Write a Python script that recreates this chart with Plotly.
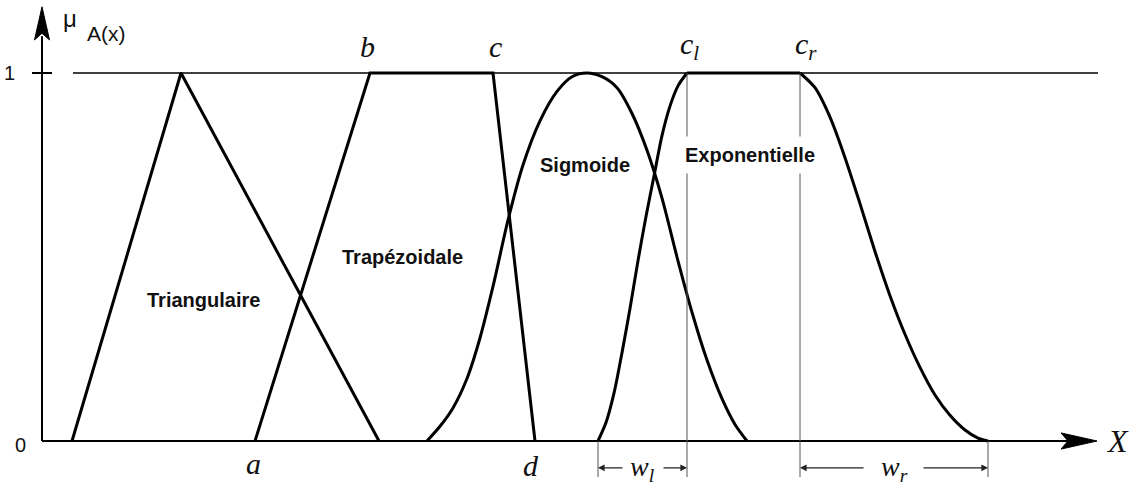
import plotly.graph_objects as go

# ---------------- data (x in abscissa units, mu = membership degree) ----------------
tri_x = [3.0, 13.9, 33.7]
tri_mu = [0, 1, 0]

trap_a, trap_b, trap_c, trap_d = 21.3, 32.8, 45.1, 49.3
trap_mu = [0, 1, 1, 0]

bell_x = [38.5, 39.8, 41.1, 42.5, 43.8, 45.1, 46.6, 48.1, 49.8, 51.5, 53.0, 54.5,
          56.0, 57.5, 59.0, 60.5, 62.0, 63.5, 65.0, 66.5, 68.0, 69.3, 70.5]
bell_mu = [0, 0.04, 0.09, 0.17, 0.28, 0.42, 0.60, 0.75, 0.87, 0.95, 0.99, 1.0,
           0.99, 0.96, 0.89, 0.79, 0.66, 0.50, 0.35, 0.22, 0.115, 0.045, 0]

exp_cl, exp_cr = 64.5, 75.8
exp_rise_x = [55.6, 56.4, 57.2, 58.0, 58.8, 59.6, 60.4, 61.2, 62.0, 62.8, 63.6, 64.5]
exp_rise_mu = [0, 0.05, 0.13, 0.24, 0.36, 0.49, 0.61, 0.72, 0.83, 0.91, 0.965, 1.0]
exp_fall_x = [75.8, 77.3, 78.8, 80.3, 81.8, 83.3, 84.8, 86.3, 87.8, 89.3, 90.8, 92.3, 93.6, 94.6]
exp_fall_mu = [1.0, 0.96, 0.88, 0.77, 0.645, 0.515, 0.395, 0.29, 0.20, 0.125, 0.07, 0.03, 0.008, 0]

y_tick_vals = [0, 1]
y_tick_text = ["0", "1"]

shape_labels = ["Triangulaire", "Trapézoidale", "Sigmoide", "Exponentielle"]

# ---------------- figure ----------------
BLACK = "#000000"
CURVE_W = 3
fig = go.Figure()


def curve(x, y, spline=False):
    line = dict(color=BLACK, width=CURVE_W, shape="spline" if spline else "linear")
    if spline:
        line["smoothing"] = 0.8
    fig.add_trace(go.Scatter(x=x, y=y, mode="lines", hoverinfo="skip", line=line))


curve(tri_x, tri_mu)
curve([trap_a, trap_b, trap_c, trap_d], trap_mu)
curve(bell_x, bell_mu, spline=True)
curve(exp_rise_x, exp_rise_mu, spline=True)
curve([exp_cl, exp_cr], [1, 1])
curve(exp_fall_x, exp_fall_mu, spline=True)

x_end = exp_fall_x[-1]
x_start_exp = exp_rise_x[0]
below = -0.098     # lower end of dimension ticks
dim_y = -0.073     # level of dimension arrows

shapes = []
# reference line mu = 1
shapes.append(dict(type="line", x0=3.1, x1=105.6, y0=1, y1=1,
                   line=dict(color=BLACK, width=1.5)))
# axes
shapes.append(dict(type="line", x0=0, x1=102.5, y0=0, y1=0, line=dict(color=BLACK, width=2)))
shapes.append(dict(type="line", x0=0, x1=0, y0=0, y1=1.1, line=dict(color=BLACK, width=2)))
# tick at 1
shapes.append(dict(type="line", x0=-1.0, x1=1.0, y0=1, y1=1, line=dict(color=BLACK, width=2)))
# arrow heads
shapes.append(dict(type="path", path="M 0,1.180 L -0.75,1.090 L 0,1.108 L 0.75,1.090 Z",
                   fillcolor=BLACK, line=dict(color=BLACK, width=1)))
shapes.append(dict(type="path", path="M 105.5,0 L 101.9,0.022 L 102.6,0 L 101.9,-0.022 Z",
                   fillcolor=BLACK, line=dict(color=BLACK, width=1)))
# thin vertical guides
GUIDE = dict(color="#555555", width=1)
for xv in (exp_cl, exp_cr):
    shapes.append(dict(type="line", x0=xv, x1=xv, y0=below, y1=1, line=GUIDE))
for xv in (x_start_exp, x_end):
    shapes.append(dict(type="line", x0=xv, x1=xv, y0=below, y1=0, line=GUIDE))

annotations = []


def dim_arrow(tail, head):
    annotations.append(dict(x=head, y=dim_y, ax=tail, ay=dim_y, axref="x", ayref="y",
                            xref="x", yref="y", text="", showarrow=True, arrowhead=2,
                            arrowsize=1.1, arrowwidth=1.2, arrowcolor="#222222",
                            standoff=0, startstandoff=0))


dim_arrow(58.2, x_start_exp)
dim_arrow(62.0, exp_cl)
dim_arrow(82.3, exp_cr)
dim_arrow(88.0, x_end)

SERIF = "Liberation Serif, Times New Roman, serif"
SANS = "Liberation Sans, Arial, sans-serif"
COND = "Liberation Sans Narrow, Arial Narrow, Liberation Sans, Arial, sans-serif"


def text(x, y, s, size, family, xshift=0, yshift=0, bg=None, pad=1):
    d = dict(x=x, y=y, xref="x", yref="y", text=s, showarrow=False,
             font=dict(size=size, family=family, color="#111111"),
             xanchor="center", yanchor="middle", xshift=xshift, yshift=yshift,
             borderpad=pad)
    if bg:
        d["bgcolor"] = bg
    annotations.append(d)


# parameter letters
text(trap_b, 1.073, "<i>b</i>", 30, SERIF, xshift=-3)
text(trap_c, 1.073, "<i>c</i>", 30, SERIF, xshift=2)
text(exp_cl, 1.073, "<i>c<sub>l</sub></i>", 30, SERIF, xshift=2)
text(exp_cr, 1.073, "<i>c<sub>r</sub></i>", 30, SERIF, xshift=6)
text(trap_a, -0.062, "<i>a</i>", 30, SERIF, xshift=-2)
text(trap_d, -0.066, "<i>d</i>", 30, SERIF, xshift=-4)
text((x_start_exp + exp_cl) / 2, dim_y, "<i>w<sub>l</sub></i>", 28, SERIF, yshift=-1)
text((exp_cr + x_end) / 2, dim_y, "<i>w<sub>r</sub></i>", 28, SERIF, yshift=-1)
text(107.5, 0.0, "<i>X</i>", 32, SERIF)

# y-axis tick labels and title
text(-3.0, y_tick_vals[1], y_tick_text[1], 20, SANS, xshift=-3)
text(-2.2, y_tick_vals[0], y_tick_text[0], 20, SANS, yshift=-4)
text(2.8, 1.147, "μ", 24, SANS)
text(6.4, 1.108, "A(x)", 21, SANS)

# shape names
text(16.1, 0.383, "<b>" + shape_labels[0] + "</b>", 20, COND)
text(36.0, 0.500, "<b>" + shape_labels[1] + "</b>", 20, COND)
text(54.3, 0.750, "<b>" + shape_labels[2] + "</b>", 20, COND)
text(70.8, 0.777, "<b>" + shape_labels[3] + "</b>", 20, COND, bg="white", pad=7)

fig.update_layout(
    width=1139, height=488,
    margin=dict(l=0, r=0, t=0, b=0),
    paper_bgcolor="white", plot_bgcolor="white",
    showlegend=False,
    shapes=shapes, annotations=annotations,
    xaxis=dict(range=[-4.2, 109.7], visible=False, fixedrange=True),
    yaxis=dict(range=[-0.1277, 1.1984], visible=False, fixedrange=True),
)

fig.write_html("out.html", config={"displayModeBar": False},
               post_script="document.body.style.margin='0px';")
